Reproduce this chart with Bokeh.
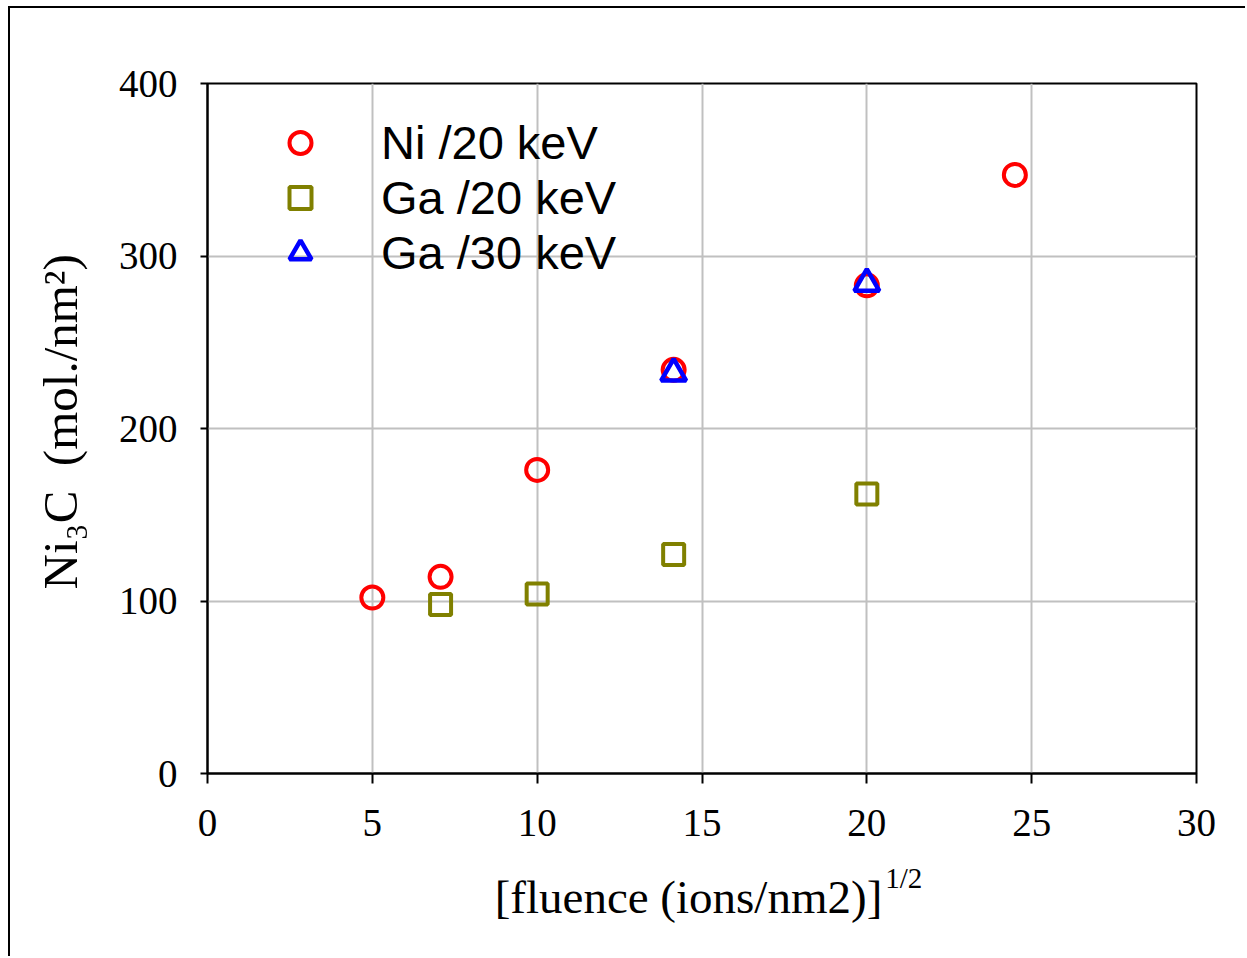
import math
from bokeh.plotting import figure
from bokeh.models import Legend, LegendItem, Label, SingleIntervalTicker
from bokeh.embed import file_html
from bokeh.resources import INLINE

# ---- data ----
x_ni20 = [5.0, 7.07, 10.0, 14.14, 20.0, 24.49]
y_ni20 = [102, 114, 176, 234, 283, 347]
x_ga20 = [7.07, 10.0, 14.14, 20.0]
y_ga20 = [98, 104, 127, 162]
x_ga30 = [14.14, 20.0]
y_ga30 = [232, 284]
series_labels = ["Ni /20 keV", "Ga /20 keV", "Ga /30 keV"]
x_title = "[fluence (ions/nm2)]"
x_title_sup = "1/2"
y_title = "Ni\u2083C\u00a0\u00a0(mol./nm\u00b2)"

p = figure(width=1237, height=950, x_range=(0, 30), y_range=(0, 400),
           output_backend="svg", toolbar_location=None,
           min_border_left=197, min_border_right=51,
           min_border_top=75, min_border_bottom=185,
           background_fill_color="white", border_fill_color="white")
p.styles = {"border-left": "2px solid black", "border-top": "2px solid black",
            "margin-left": "8px", "margin-top": "6px"}

p.outline_line_color = "black"
p.outline_line_width = 2

p.xaxis.ticker = SingleIntervalTicker(interval=5)
p.yaxis.ticker = SingleIntervalTicker(interval=100)
for ax in (p.xaxis, p.yaxis):
    ax.axis_line_color = "black"
    ax.axis_line_width = 2
    ax.major_tick_line_color = "black"
    ax.major_tick_line_width = 2
    ax.major_tick_in = 0
    ax.minor_tick_line_color = None
    ax.major_label_text_font = "Liberation Serif"
    ax.major_label_text_font_size = "39px"
    ax.major_label_text_color = "black"
p.xaxis.major_tick_out = 10
p.yaxis.major_tick_out = 7
p.xaxis.major_label_standoff = 26
p.yaxis.major_label_standoff = 23

p.xgrid.grid_line_color = "#c0c0c0"
p.ygrid.grid_line_color = "#c0c0c0"
p.xgrid.grid_line_width = 2
p.ygrid.grid_line_width = 2

r1 = p.scatter(x_ni20, y_ni20, marker="circle", size=22, fill_color=None,
               line_color="#ff0000", line_width=4)
r2 = p.scatter(x_ga20, y_ga20, marker="square", size=21, fill_color=None,
               line_color="#808000", line_width=4)
r3 = p.scatter(x_ga30, y_ga30, marker="triangle", size=25, fill_color=None,
               line_color="#0000ff", line_width=4.5)

legend = Legend(items=[LegendItem(label=series_labels[0], renderers=[r1]),
                       LegendItem(label=series_labels[1], renderers=[r2]),
                       LegendItem(label=series_labels[2], renderers=[r3])],
                location="top_left", margin=0, padding=32,
                glyph_width=122, glyph_height=55, label_height=55,
                label_standoff=20, spacing=0,
                label_text_font="Liberation Sans", label_text_font_size="47px",
                label_text_color="black",
                background_fill_alpha=0, border_line_alpha=0)
p.add_layout(legend)

p.add_layout(Label(x=14.59, y=-71.6, text=x_title, text_align="center",
                   text_baseline="alphabetic", text_font="Liberation Serif",
                   text_font_size="47px", text_color="black"), "below")
p.add_layout(Label(x=20.56, y=-60.5, text=x_title_sup, text_align="left",
                   text_baseline="alphabetic", text_font="Liberation Serif",
                   text_font_size="29px", text_color="black"), "below")
p.add_layout(Label(x=-4.45, y=203.9, text=y_title, angle=math.pi / 2,
                   text_align="center", text_baseline="alphabetic",
                   text_font="Liberation Serif", text_font_size="49px",
                   text_color="black"), "left")

open("out.html", "w").write(file_html(p, INLINE))
